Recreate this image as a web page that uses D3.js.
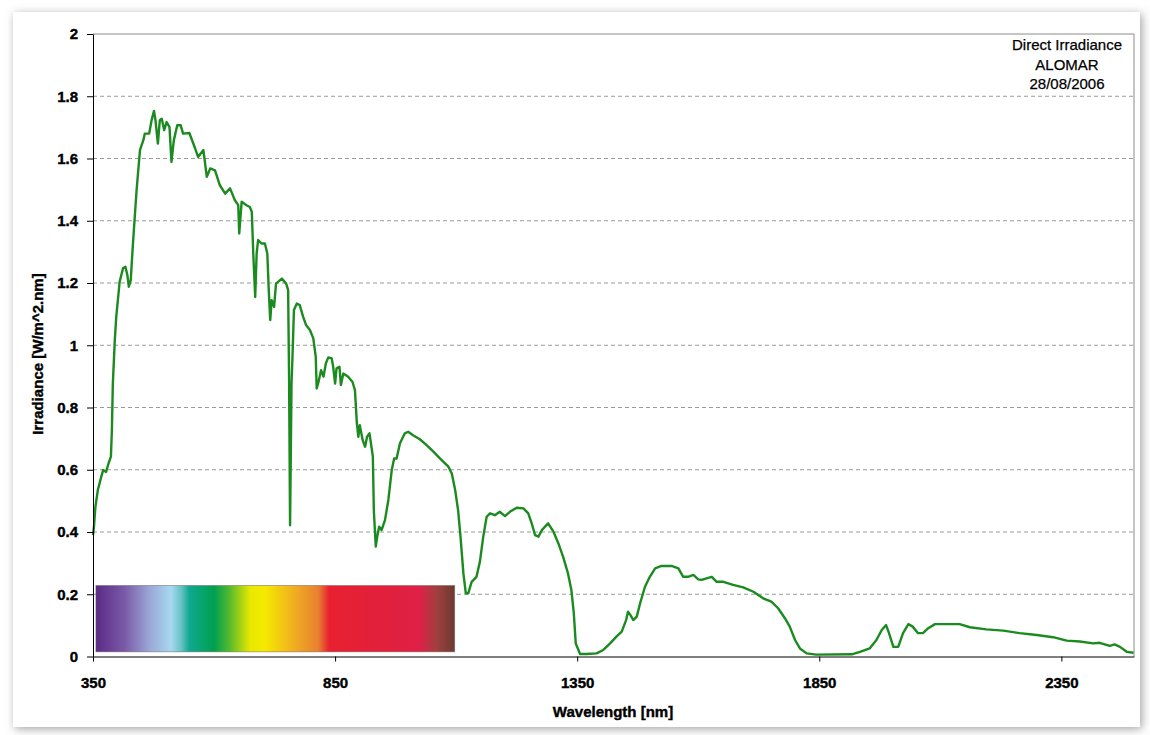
<!DOCTYPE html>
<html>
<head>
<meta charset="utf-8">
<script src="https://cdn.jsdelivr.net/npm/d3@7"></script>
<style>
  body { margin: 0; background: #fff; }
  text { font-family: "Liberation Sans", Arial, sans-serif; }
</style>
</head>
<body>
<svg id="chart" width="1150" height="735"></svg>
<script>
// wavelength [nm] and direct irradiance [W/m^2.nm]
let wavelength = [350,352,355,360,367,371,377,382,387,389,391,395,398,402,405,412,417,421,424,428,430,433,440,447,454,457,466,471,476,479,484,488,492,497,502,508,512,517,524,531,536,549,561,567,578,585,592,602,612,623,633,643,650,652,657,667,674,678,681,685,688,691,698,705,710,713,716,719,724,728,740,749,753,755,757,760,762,765,771,777,784,790,798,805,810,812,815,821,826,831,836,843,846,850,853,859,862,867,877,886,891,895,898,901,907,912,916,921,924,928,930,934,937,941,946,953,960,967,972,977,984,994,1001,1011,1025,1039,1053,1067,1084,1091,1098,1104,1109,1115,1120,1125,1132,1142,1149,1156,1163,1170,1180,1190,1201,1211,1225,1239,1249,1256,1263,1270,1277,1290,1301,1311,1321,1331,1338,1343,1347,1356,1369,1390,1404,1418,1431,1442,1451,1455,1460,1466,1473,1480,1490,1500,1511,1524,1545,1559,1569,1579,1590,1600,1607,1617,1628,1638,1652,1672,1693,1714,1734,1751,1765,1779,1789,1800,1810,1824,1844,1917,1934,1954,1968,1979,1988,1994,2003,2013,2023,2034,2043,2054,2064,2075,2089,2113,2140,2161,2195,2230,2264,2299,2333,2361,2388,2416,2429,2450,2460,2471,2485,2499];
let irradiance = [0.39,0.417,0.481,0.535,0.577,0.599,0.593,0.62,0.642,0.727,0.877,1.016,1.091,1.155,1.204,1.247,1.252,1.225,1.188,1.209,1.263,1.338,1.498,1.627,1.659,1.68,1.68,1.723,1.753,1.723,1.648,1.723,1.728,1.691,1.717,1.701,1.589,1.659,1.707,1.707,1.68,1.682,1.632,1.605,1.627,1.541,1.568,1.562,1.514,1.487,1.504,1.466,1.45,1.359,1.461,1.45,1.444,1.428,1.295,1.155,1.295,1.338,1.327,1.327,1.295,1.177,1.081,1.145,1.123,1.198,1.214,1.198,1.177,0.888,0.422,0.877,0.963,1.113,1.134,1.129,1.091,1.065,1.049,1.022,0.963,0.861,0.877,0.92,0.899,0.942,0.961,0.958,0.931,0.877,0.926,0.931,0.872,0.909,0.899,0.882,0.856,0.749,0.706,0.743,0.695,0.674,0.706,0.717,0.685,0.642,0.47,0.353,0.385,0.417,0.406,0.438,0.503,0.599,0.636,0.636,0.685,0.717,0.722,0.711,0.698,0.679,0.658,0.636,0.61,0.588,0.535,0.47,0.385,0.267,0.203,0.203,0.24,0.256,0.304,0.385,0.449,0.46,0.454,0.465,0.451,0.465,0.478,0.476,0.46,0.428,0.39,0.385,0.406,0.428,0.401,0.364,0.32,0.267,0.214,0.139,0.042,0.008,0.008,0.01,0.021,0.042,0.064,0.08,0.117,0.144,0.133,0.117,0.128,0.171,0.224,0.256,0.283,0.291,0.291,0.283,0.256,0.256,0.262,0.248,0.246,0.251,0.256,0.24,0.24,0.23,0.222,0.208,0.187,0.176,0.155,0.123,0.096,0.053,0.026,0.01,0.006,0.007,0.015,0.026,0.053,0.085,0.101,0.075,0.031,0.031,0.075,0.104,0.096,0.075,0.075,0.091,0.104,0.104,0.104,0.094,0.087,0.083,0.075,0.069,0.062,0.051,0.048,0.042,0.044,0.034,0.039,0.031,0.015,0.012];

let xTicks = [350, 850, 1350, 1850, 2350];
let yTicks = [0, 0.2, 0.4, 0.6, 0.8, 1, 1.2, 1.4, 1.6, 1.8, 2];
let titleLines = ["Direct Irradiance", "ALOMAR", "28/08/2006"];

// visible spectrum strip (wavelength extent and height in data units)
let spectrumBox = {x0: 356, x1: 1097, y0: 0.015, y1: 0.228};
let spectrumColors = ["#5b2a86","#7a5aa8","#9aa8d8","#a8d8f0","#60c0c0","#10a890","#00a050","#50b830","#e8e800","#f5ea00","#f0b020","#e88030","#e82030","#e02040","#e02048","#a04040","#6a3a30"];
let spectrumOffsets = [0,0.08,0.15,0.21,0.24,0.26,0.33,0.37,0.43,0.47,0.55,0.62,0.65,0.85,0.9,0.95,1];

let data = wavelength.map((w, i) => ({w: w, v: irradiance[i]}));

let svg = d3.select("#chart");

let plotLeft = 93, plotRight = 1134, plotTop = 34, plotBottom = 656.5;

let xScale = d3.scaleLinear().domain([350, 2500]).range([plotLeft, plotRight]);
let yScale = d3.scaleLinear().domain([0, 2]).range([plotBottom, plotTop]);

let defs = svg.append("defs");
let shadow = defs.append("filter").attr("id", "shadow")
  .attr("x", "-5%").attr("y", "-5%").attr("width", "110%").attr("height", "110%");
shadow.append("feDropShadow")
  .attr("dx", 2).attr("dy", 2).attr("stdDeviation", 5)
  .attr("flood-color", "#666").attr("flood-opacity", 0.6);

let grad = defs.append("linearGradient").attr("id", "spectrum")
  .attr("x1", "0%").attr("x2", "100%").attr("y1", "0%").attr("y2", "0%");
grad.selectAll("stop")
  .data(spectrumColors)
  .enter()
  .append("stop")
  .attr("offset", (d, i) => spectrumOffsets[i])
  .attr("stop-color", d => d);

// card
svg.append("rect")
  .attr("x", 13).attr("y", 12)
  .attr("width", 1127).attr("height", 715)
  .attr("fill", "#fff")
  .attr("filter", "url(#shadow)");

// grid
svg.append("g")
  .selectAll("line")
  .data(yTicks.filter(d => d > 0 && d < 2))
  .enter()
  .append("line")
  .attr("x1", plotLeft).attr("x2", plotRight)
  .attr("y1", d => yScale(d)).attr("y2", d => yScale(d))
  .attr("stroke", "#9a9a9a")
  .attr("stroke-dasharray", "4,3");

// plot frame (top and right)
svg.append("path")
  .attr("d", `M${plotLeft},${yScale(2)}H${plotRight}V${plotBottom}`)
  .attr("fill", "none")
  .attr("stroke", "#8a8a8a");

// spectrum strip
svg.append("rect")
  .attr("x", xScale(spectrumBox.x0))
  .attr("y", yScale(spectrumBox.y1))
  .attr("width", xScale(spectrumBox.x1) - xScale(spectrumBox.x0))
  .attr("height", yScale(spectrumBox.y0) - yScale(spectrumBox.y1))
  .attr("fill", "url(#spectrum)")
  .attr("stroke", "#6a5a5a")
  .attr("stroke-opacity", 0.6)
  .attr("stroke-width", 0.8);

// curve
let lineGen = d3.line()
  .x(d => xScale(d.w))
  .y(d => yScale(d.v));

svg.append("path")
  .datum(data)
  .attr("d", lineGen)
  .attr("fill", "none")
  .attr("stroke", "#1b8a1f")
  .attr("stroke-width", 2.4)
  .attr("stroke-linejoin", "round");

// axes
let xAxis = d3.axisBottom(xScale)
  .tickValues(xTicks)
  .tickSizeInner(5)
  .tickSizeOuter(0)
  .tickPadding(16)
  .tickFormat(d3.format("d"));

let yAxis = d3.axisLeft(yScale)
  .tickValues(yTicks)
  .tickSizeInner(6)
  .tickSizeOuter(0)
  .tickPadding(9)
  .tickFormat(d => String(+d.toFixed(1)));

let gx = svg.append("g")
  .attr("transform", `translate(0, ${plotBottom})`)
  .call(xAxis);

let gy = svg.append("g")
  .attr("transform", `translate(${plotLeft}, 0)`)
  .call(yAxis);

[gx, gy].forEach(g => {
  g.select(".domain").attr("stroke", "#000");
  g.selectAll(".tick line").attr("stroke", "#000");
  g.selectAll(".tick text")
    .attr("fill", "#000")
    .attr("stroke", "#000")
    .attr("stroke-width", 0.4)
    .style("font-family", "'Liberation Sans', Arial, sans-serif")
    .style("font-size", "15px")
    .style("font-weight", "bold");
});

// axis titles
svg.append("text")
  .attr("x", 613).attr("y", 717)
  .attr("text-anchor", "middle")
  .attr("stroke", "#000")
  .attr("stroke-width", 0.4)
  .style("font-size", "15px")
  .style("font-weight", "bold")
  .text("Wavelength [nm]");

svg.append("text")
  .attr("transform", "translate(43, 354) rotate(-90)")
  .attr("text-anchor", "middle")
  .attr("stroke", "#000")
  .attr("stroke-width", 0.4)
  .style("font-size", "15px")
  .style("font-weight", "bold")
  .text("Irradiance [W/m^2.nm]");

// title block
svg.append("g")
  .selectAll("text")
  .data(titleLines)
  .enter()
  .append("text")
  .attr("x", 1067)
  .attr("y", (d, i) => 50 + i * 19.5)
  .attr("text-anchor", "middle")
  .attr("stroke", "#000")
  .attr("stroke-width", 0.25)
  .style("font-size", "15px")
  .text(d => d);
</script>
</body>
</html>
